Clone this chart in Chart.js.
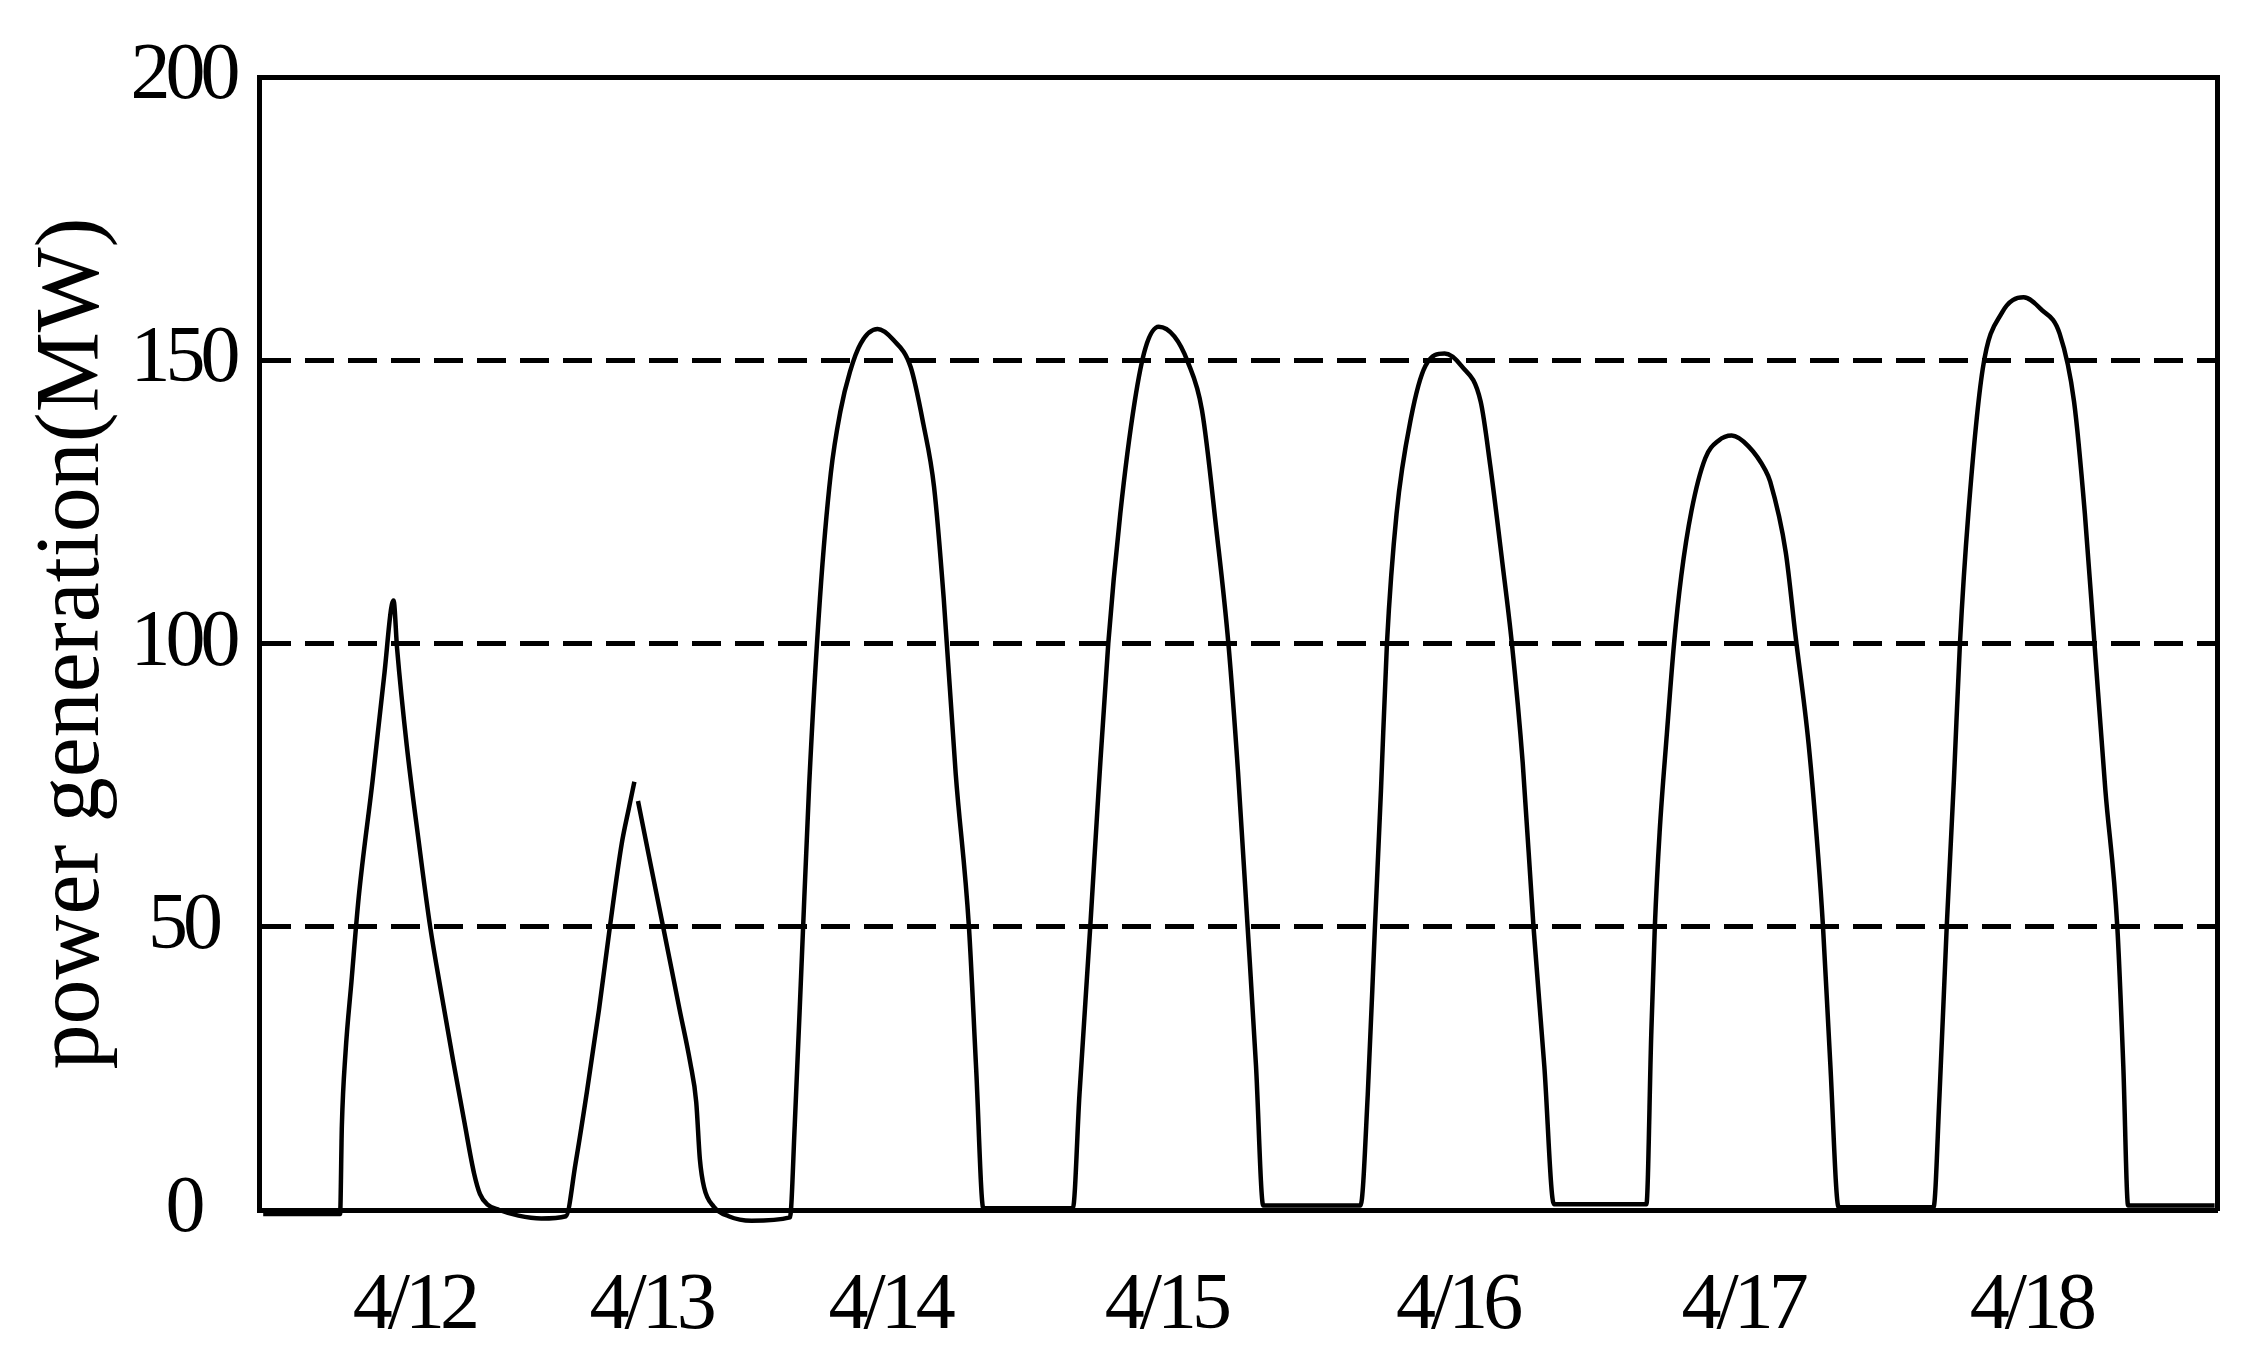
<!DOCTYPE html>
<html>
<head>
<meta charset="utf-8">
<script src="https://cdn.jsdelivr.net/npm/chart.js@4.4.1/dist/chart.umd.min.js"></script>
<style>
  html, body { margin: 0; padding: 0; background: #ffffff; }
  #wrap { width: 2256px; height: 1364px; }
</style>
</head>
<body>
<div id="wrap"><canvas id="c" width="2256" height="1364"></canvas></div>
<script>
// ---- data (x = hours from the left edge of the axis, y = MW) ----
const hours = [
  0.35, 6.75, 6.9, 7.2, 7.7, 8.3, 9.45, 10.4, 11.2,
  11.5, 12.3, 13.3, 14.25, 15.2, 16.15, 17.1, 17.9, 18.4, 19.0, 20.0, 21.6, 23.5, 25.55,
  26.35, 27.3, 28.3, 29.2, 30.2, 30.8, 31.25, 31.35, 31.55, 32.6, 33.5, 34.3, 35.0, 35.9, 36.4, 36.7, 37.05, 37.85, 39.1, 41.0, 44.2,
  44.6, 45.2, 45.8, 46.7, 47.6, 48.4, 49.2, 50.1, 51.5, 52.8, 54.25, 55.3, 56.2, 57.0, 58.0, 59.1, 59.7, 60.3,
  67.75,
  68.3, 69.2, 69.9, 70.7, 71.7, 72.9, 73.8, 74.9, 76.2, 77.3, 78.5, 79.7, 80.7, 81.5, 82.3, 83.0, 83.6,
  91.7,
  92.3, 92.9, 93.4, 93.9, 94.7, 95.9, 97.1, 98.7, 100.1, 101.7, 102.5, 103.5, 104.3, 105.2, 106.1, 107.0, 107.8,
  115.5,
  115.9, 116.2, 116.6, 117.2, 117.8, 118.4, 119.25, 120.4, 121.5, 122.6, 124.0, 125.4, 125.8, 127.1, 127.9, 129.0, 129.8, 130.2, 130.8, 131.5,
  139.4,
  139.9, 140.5, 141.1, 141.6, 142.3, 143.5, 145.1, 146.9, 148.4, 149.9, 151.1, 152.0, 152.8, 153.7, 154.7, 155.2, 155.6,
  162.8
];
const power = [
  -0.7, -0.7, 15, 27.7, 40.4, 55.2, 75.7, 93.9, 107.6,
  99, 82, 65, 50, 38, 26.5, 15.5, 6.5, 2.8, 1.0, 0, -1, -1.5, -1.1,
  8.2, 20.9, 35.3, 49.8, 64.7, 71, 75.6, null, 72.2, 61, 51.5, 43, 35.5, 26, 19, 9, 4, 0.6, -1.1, -1.9, -1.3,
  15, 45, 75, 108, 130, 141, 148, 153, 155.5, 153.6, 148.8, 138.8, 127.6, 108, 77, 50, 25, 0.3,
  0.3,
  20.3, 50, 74.3, 100, 122.9, 142.7, 152.2, 155.9, 154.2, 149.8, 141.2, 120.1, 100, 77.4, 50, 25.4, 0.8,
  0.8,
  20.3, 50, 74, 100, 122.9, 139.8, 149, 151.2, 149, 142.7, 131.4, 114.4, 100, 79, 50, 25.4, 1,
  1,
  30.8, 50, 66.7, 84, 100, 111.9, 123.4, 132.7, 135.8, 136.7, 134.8, 130.6, 128.6, 116.1, 101.6, 82.3, 62.4, 50, 26.1, 0.5,
  0.5,
  20.3, 50, 76, 100, 122.9, 148.5, 158.4, 161.1, 158.9, 154.7, 142.7, 122.9, 100, 74.3, 50, 25.4, 0.8,
  0.8
];
const dayTickHours = [12.9, 32.6, 52.5, 75.5, 99.75, 123.5, 147.5];
const dayLabels = ['4/12', '4/13', '4/14', '4/15', '4/16', '4/17', '4/18'];
const yTickValues = [0, 50, 100, 150, 200];
const yTitle = 'power generation(MW)';

const SERIF = "'Liberation Serif', 'Times New Roman', serif";
const points = hours.map((h, i) => ({ x: h, y: power[i] }));

// tick labels of the reference are set tight; draw them with a small negative letter spacing
const tightLabels = {
  id: 'tightLabels',
  beforeDraw(chart) {
    Object.values(chart.scales).forEach((s) => {
      if (s._tightWrapped) return;
      const orig = s.drawLabels;
      s.drawLabels = function (area) {
        const c = this.ctx;
        c.save();
        c.letterSpacing = '-5px';
        orig.call(this, area);
        c.restore();
      };
      s._tightWrapped = true;
    });
  }
};

new Chart(document.getElementById('c'), {
  type: 'line',
  data: {
    datasets: [{
      data: points,
      borderColor: '#000000',
      borderWidth: 4.5,
      pointRadius: 0,
      fill: false,
      cubicInterpolationMode: 'monotone',
      spanGaps: false,
      clip: false
    }]
  },
  options: {
    responsive: false,
    animation: false,
    devicePixelRatio: 1,
    layout: { padding: { top: 77, right: 39, left: 0, bottom: 0 } },
    plugins: { legend: { display: false }, tooltip: { enabled: false } },
    scales: {
      x: {
        type: 'linear',
        position: 'bottom',
        min: 0,
        max: 163,
        afterBuildTicks: (s) => { s.ticks = dayTickHours.map(v => ({ value: v })); },
        ticks: {
          autoSkip: false,
          maxRotation: 0,
          padding: 49,
          color: '#000000',
          font: { family: SERIF, size: 80 },
          callback: (v, i) => dayLabels[i]
        },
        grid: { display: false, drawTicks: false },
        border: { display: true, color: '#000000', width: 5 },
        afterFit: (s) => { s.height = 154; }
      },
      y: {
        type: 'linear',
        position: 'left',
        min: 0,
        max: 200,
        afterBuildTicks: (s) => { s.ticks = yTickValues.map(v => ({ value: v })); },
        ticks: {
          padding: 16,
          crossAlign: 'center',
          color: '#000000',
          font: { family: SERIF, size: 80 },
          callback: (v) => String(v)
        },
        grid: {
          drawTicks: false,
          lineWidth: 5,
          color: (ctx) => (ctx.tick && ctx.tick.value === 0) ? 'rgba(0,0,0,0)' : '#000000'
        },
        border: {
          display: true,
          color: '#000000',
          width: 5,
          dash: (ctx) => (ctx.tick && ctx.tick.value === 200) ? [] : [29, 14]
        },
        title: {
          display: true,
          text: yTitle,
          color: '#000000',
          font: { family: SERIF, size: 90 },
          padding: { top: 20, bottom: 0 }
        },
        afterFit: (s) => { s.width = 259; }
      },
      yRight: {
        type: 'linear',
        position: 'right',
        min: 0,
        max: 200,
        ticks: { display: false },
        grid: { display: false, drawTicks: false },
        border: { display: true, color: '#000000', width: 5 },
        afterFit: (s) => { s.width = 0; }
      }
    }
  },
  plugins: [tightLabels]
});
</script>
</body>
</html>
